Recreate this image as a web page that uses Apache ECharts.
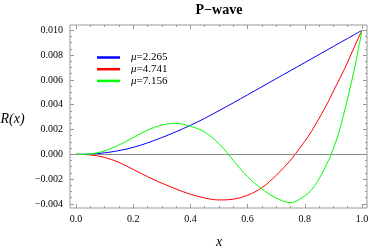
<!DOCTYPE html>
<html>
<head>
<meta charset="utf-8">
<script src="https://cdn.jsdelivr.net/npm/echarts@6/dist/echarts.min.js"></script>
<style>html,body{margin:0;padding:0;background:#fff;}#c{width:375px;height:250px;}</style>
</head>
<body>
<div id="c"></div>
<script>
var titleText = 'P\u2212wave';
var xLabel = 'x';
var yLabel = 'R(x)';
var seriesNames = ['\u03bc=2.265', '\u03bc=4.741', '\u03bc=7.156'];
var blueX = [0, 0.05, 0.1, 0.15, 0.2, 0.25, 0.3, 0.35, 0.4, 0.45, 0.5, 0.55, 0.6, 0.65, 0.7, 0.75, 0.8, 0.85, 0.9, 0.95, 1.0];
var blueY = [0, 0.00002, 0.00012, 0.0003, 0.00056, 0.00092, 0.00135, 0.00182, 0.00234, 0.0029, 0.00352, 0.00415, 0.0048, 0.00545, 0.0061, 0.00675, 0.0074, 0.00805, 0.0087, 0.00935, 0.01];
var redX = [0, 0.05, 0.1, 0.15, 0.2, 0.25, 0.3, 0.35, 0.4, 0.45, 0.5, 0.55, 0.6, 0.65, 0.7, 0.75, 0.766, 0.8, 0.824, 0.85, 0.882, 0.9, 0.94, 0.975, 1.0];
var redY = [0, -0.00005, -0.00025, -0.00065, -0.00122, -0.0018, -0.00233, -0.0028, -0.00322, -0.00352, -0.00368, -0.00362, -0.0033, -0.00269, -0.0017, -0.00048, 0, 0.00105, 0.00188, 0.0029, 0.00424, 0.0051, 0.00694, 0.00876, 0.01];
var greenX = [0, 0.05, 0.1, 0.15, 0.2, 0.25, 0.3, 0.35, 0.4, 0.45, 0.5, 0.533, 0.55, 0.6, 0.65, 0.7, 0.75, 0.8, 0.824, 0.859, 0.892, 0.917, 0.94, 0.963, 0.98, 1.0];
var greenY = [0, 0.00004, 0.00027, 0.00075, 0.00135, 0.00195, 0.00236, 0.0025, 0.00226, 0.0018, 0.00085, 0, -0.0005, -0.0018, -0.0028, -0.00352, -0.0039, -0.00335, -0.00285, -0.0016, 0, 0.0016, 0.0036, 0.0058, 0.0076, 0.01];
var xMajor = [0, 0.2, 0.4, 0.6, 0.8, 1.0];
var xMinor = [0.05, 0.1, 0.15, 0.25, 0.3, 0.35, 0.45, 0.5, 0.55, 0.65, 0.7, 0.75, 0.85, 0.9, 0.95];
var yMajor = [-0.004, -0.002, 0, 0.002, 0.004, 0.006, 0.008, 0.010];
var yMinor = [-0.0035, -0.003, -0.0025, -0.0015, -0.001, -0.0005, 0.0005, 0.001, 0.0015, 0.0025, 0.003, 0.0035, 0.0045, 0.005, 0.0055, 0.0065, 0.007, 0.0075, 0.0085, 0.009, 0.0095];
var colors = ['#0000ff', '#ff0000', '#00ff00'];

var XMIN = -0.021, XMAX = 1.0175, YMIN = -0.00433, YMAX = 0.01043;
var FRAME = '#999999';
var FONT = '"Liberation Serif", "DejaVu Serif", serif';

function pairs(xs, ys) { return xs.map(function (x, i) { return [x, ys[i]]; }); }

function xAx(pos, ticks, len, labels) {
  return {
    type: 'value', position: pos, min: XMIN, max: XMAX,
    axisLine: { show: false, onZero: false }, splitLine: { show: false },
    axisTick: { show: true, inside: true, length: len, customValues: ticks, lineStyle: { color: FRAME, width: 1 } },
    axisLabel: labels ? { show: true, customValues: xMajor, margin: 6, color: '#000', fontFamily: FONT, fontSize: 10,
      formatter: function (v) { return v.toFixed(1); } } : { show: false }
  };
}
function yAx(pos, ticks, len, labels) {
  return {
    type: 'value', position: pos, min: YMIN, max: YMAX,
    axisLine: { show: false, onZero: false }, splitLine: { show: false },
    axisTick: { show: true, inside: true, length: len, customValues: ticks, lineStyle: { color: FRAME, width: 1 } },
    axisLabel: labels ? { show: true, customValues: yMajor, margin: 7, color: '#000', fontFamily: FONT, fontSize: 10,
      formatter: function (v) { return (Math.abs(v) < 1e-9 ? 0 : v).toFixed(3).replace('-', '\u2212'); } } : { show: false }
  };
}

var chart = echarts.init(document.getElementById('c'), null, { renderer: 'canvas' });
var dataSets = [[blueX, blueY], [redX, redY], [greenX, greenY]];
var series = dataSets.map(function (d, i) {
  var s = {
    name: seriesNames[i], type: 'line', data: pairs(d[0], d[1]), showSymbol: false, smooth: 0.35,
    xAxisIndex: 0, yAxisIndex: 0, z: 3 + i,
    lineStyle: { color: colors[i], width: 1 }, itemStyle: { color: colors[i] }
  };
  if (i === 0) {
    s.markLine = { silent: true, symbol: 'none', label: { show: false }, animation: false,
      lineStyle: { color: '#8a8a8a', width: 1, type: 'solid' }, data: [{ yAxis: 0 }] };
  }
  return s;
});

chart.setOption({
  animation: false,
  backgroundColor: '#fff',
  grid: { left: 70, right: 8, top: 25, bottom: 42, show: true, borderColor: FRAME, borderWidth: 1, backgroundColor: 'transparent', containLabel: false },
  xAxis: [xAx('bottom', xMajor, 4, true), xAx('bottom', xMinor, 2, false), xAx('top', xMajor, 4, false), xAx('top', xMinor, 2, false)],
  yAxis: [yAx('left', yMajor, 4, true), yAx('left', yMinor, 2, false), yAx('right', yMajor, 4, false), yAx('right', yMinor, 2, false)],
  legend: {
    orient: 'vertical', left: 92, top: 47, icon: 'rect', itemWidth: 23, itemHeight: 2.5, itemGap: 0.7,
    data: seriesNames,
    formatter: function (n) { return '{m|\u03bc}{n|' + n.slice(1) + '}'; },
    textStyle: {
      color: '#000', fontFamily: FONT, fontSize: 11, lineHeight: 10, padding: [0, 0, 0, 6],
      rich: {
        m: { fontFamily: FONT, fontSize: 11, fontStyle: 'italic', color: '#000', lineHeight: 10 },
        n: { fontFamily: FONT, fontSize: 11, color: '#000', lineHeight: 10 }
      }
    }
  },
  graphic: [
    { type: 'text', style: { text: titleText, x: 219, y: 10.5, align: 'center', verticalAlign: 'middle', font: 'bold 14px ' + FONT, fill: '#000' } },
    { type: 'text', style: { text: yLabel, x: 12.5, y: 119.5, align: 'center', verticalAlign: 'middle', font: 'italic 14px ' + FONT, fill: '#000' } },
    { type: 'text', style: { text: xLabel, x: 219, y: 242, align: 'center', verticalAlign: 'middle', font: 'italic 14px ' + FONT, fill: '#000' } }
  ],
  series: series
});
</script>
</body>
</html>
